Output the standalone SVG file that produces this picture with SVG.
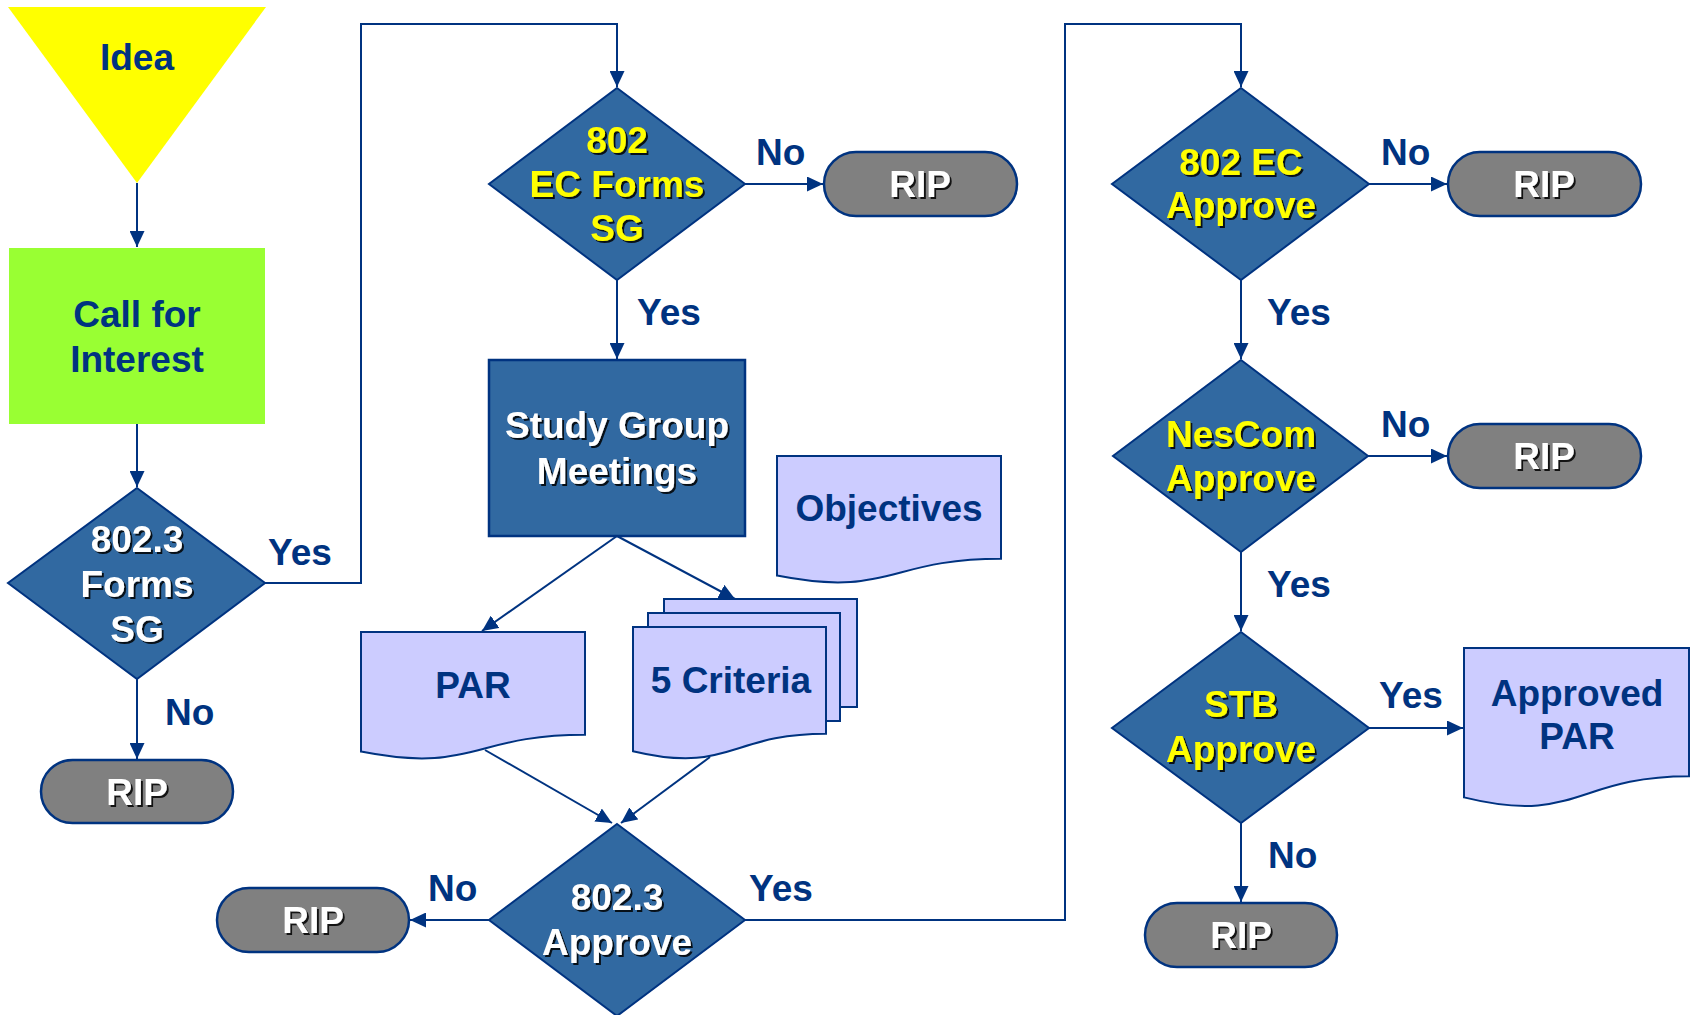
<svg xmlns="http://www.w3.org/2000/svg" width="1691" height="1015" viewBox="0 0 1691 1015">
<style>
text{font-family:"Liberation Sans",Arial,sans-serif;font-weight:bold;font-size:37px;text-anchor:middle}
.lbl{fill:#003380;text-anchor:start}
.nv{fill:#003380}
.wt{fill:#ffffff;filter:url(#sh)}
.yl{fill:#ffff00;filter:url(#sh)}
.dia{fill:#3169a1;stroke:#003380;stroke-width:2}
.pill{fill:#808080;stroke:#003380;stroke-width:2.5}
.doc{fill:#ccccff;stroke:#003380;stroke-width:2}
.con{fill:none;stroke:#003380;stroke-width:2;marker-end:url(#ah)}
</style>
<defs>
<marker id="ah" markerUnits="userSpaceOnUse" markerWidth="17" markerHeight="15" refX="16" refY="7.5" orient="auto">
<path d="M0,0 L16,7.5 L0,15 Z" fill="#003380"/>
</marker>
<filter id="sh" x="-10%" y="-20%" width="130%" height="150%">
<feDropShadow dx="2" dy="2" stdDeviation="0.6" flood-color="#000" flood-opacity="0.85"/>
</filter>
</defs>
<rect width="1691" height="1015" fill="#ffffff"/>

<g id="connectors">
<path class="con" d="M137,183 V247"/>
<path class="con" d="M137,424 V487"/>
<path class="con" d="M265,583 H361 V24 H617 V87"/>
<path class="con" d="M137,679 V759"/>
<path class="con" d="M745,184 H823"/>
<path class="con" d="M617,280 V359"/>
<path class="con" d="M617,536 L482,631"/>
<path class="con" d="M617,536 L735,599"/>
<path class="con" d="M485,750 L612,823"/>
<path class="con" d="M710,757 L621,823"/>
<path class="con" d="M489,920 H410"/>
<path class="con" d="M745,920 H1065 V24 H1241 V87"/>
<path class="con" d="M1369,184 H1447"/>
<path class="con" d="M1241,280 V359"/>
<path class="con" d="M1368,456 H1447"/>
<path class="con" d="M1241,552 V631"/>
<path class="con" d="M1369,728 H1463"/>
<path class="con" d="M1241,823 V902"/>
</g>

<g id="labels">
<text class="lbl" x="268" y="565">Yes</text>
<text class="lbl" x="165" y="725">No</text>
<text class="lbl" x="756" y="165">No</text>
<text class="lbl" x="637" y="325">Yes</text>
<text class="lbl" x="428" y="901">No</text>
<text class="lbl" x="749" y="901">Yes</text>
<text class="lbl" x="1381" y="165">No</text>
<text class="lbl" x="1267" y="325">Yes</text>
<text class="lbl" x="1381" y="437">No</text>
<text class="lbl" x="1267" y="597">Yes</text>
<text class="lbl" x="1379" y="708">Yes</text>
<text class="lbl" x="1268" y="868">No</text>
</g>

<g id="idea">
<polygon points="8,7 266,7 137,183" fill="#ffff00"/>
<text class="nv" x="137" y="70">Idea</text>
</g>

<g id="call-for-interest">
<rect x="9" y="248" width="256" height="176" fill="#99ff33"/>
<text class="nv" x="137" y="327">Call for</text>
<text class="nv" x="137" y="372">Interest</text>
</g>

<g id="d-8023-forms-sg">
<polygon class="dia" points="137,488 265,583 137,679 8,583"/>
<text class="wt" x="137" y="552">802.3</text>
<text class="wt" x="137" y="597">Forms</text>
<text class="wt" x="137" y="642">SG</text>
</g>

<g id="rip-1">
<rect class="pill" x="41" y="760" width="192" height="63" rx="31.5"/>
<text class="wt" x="137" y="805">RIP</text>
</g>

<g id="d-802-ec-forms-sg">
<polygon class="dia" points="617,88 745,184 617,280 489,184"/>
<text class="yl" x="617" y="153">802</text>
<text class="yl" x="617" y="197">EC Forms</text>
<text class="yl" x="617" y="241">SG</text>
</g>

<g id="rip-2">
<rect class="pill" x="824" y="152" width="193" height="64" rx="32"/>
<text class="wt" x="920" y="197">RIP</text>
</g>

<g id="study-group">
<rect x="489" y="360" width="256" height="176" fill="#3169a1" stroke="#003380" stroke-width="2.5"/>
<text class="wt" x="617" y="438">Study Group</text>
<text class="wt" x="617" y="484">Meetings</text>
</g>

<g id="objectives">
<path class="doc" d="M777,456 H1001 V558.7 C889,558.7 889,597.8 777,575.6 Z"/>
<text class="nv" x="889" y="521">Objectives</text>
</g>

<g id="par">
<path class="doc" d="M361,632 H585 V734.7 C473,734.7 473,773.8 361,751.6 Z"/>
<text class="nv" x="473" y="698">PAR</text>
</g>

<g id="five-criteria">
<rect class="doc" x="664" y="599" width="193" height="108"/>
<rect class="doc" x="648" y="613" width="192" height="108"/>
<path class="doc" d="M633,627 H826 V733.7 C729.5,733.7 729.5,774.3 633,751.2 Z"/>
<text class="nv" x="731" y="693">5 Criteria</text>
</g>

<g id="d-8023-approve">
<polygon class="dia" points="617,824 745,920 617,1016 489,920"/>
<text class="wt" x="617" y="910">802.3</text>
<text class="wt" x="617" y="955">Approve</text>
</g>

<g id="rip-3">
<rect class="pill" x="217" y="888" width="192" height="64" rx="32"/>
<text class="wt" x="313" y="933">RIP</text>
</g>

<g id="d-802-ec-approve">
<polygon class="dia" points="1241,88 1369,184 1241,280 1112,184"/>
<text class="yl" x="1241" y="175">802 EC</text>
<text class="yl" x="1241" y="218">Approve</text>
</g>

<g id="rip-4">
<rect class="pill" x="1448" y="152" width="193" height="64" rx="32"/>
<text class="wt" x="1544" y="197">RIP</text>
</g>

<g id="d-nescom-approve">
<polygon class="dia" points="1241,360 1368,456 1241,552 1113,456"/>
<text class="yl" x="1241" y="447">NesCom</text>
<text class="yl" x="1241" y="491">Approve</text>
</g>

<g id="rip-5">
<rect class="pill" x="1448" y="424" width="193" height="64" rx="32"/>
<text class="wt" x="1544" y="469">RIP</text>
</g>

<g id="d-stb-approve">
<polygon class="dia" points="1241,632 1369,728 1241,823 1112,728"/>
<text class="yl" x="1241" y="717">STB</text>
<text class="yl" x="1241" y="762">Approve</text>
</g>

<g id="approved-par">
<path class="doc" d="M1464,648 H1689 V776.3 C1576.5,776.3 1576.5,825.2 1464,797.4 Z"/>
<text class="nv" x="1577" y="706">Approved</text>
<text class="nv" x="1577" y="749">PAR</text>
</g>

<g id="rip-6">
<rect class="pill" x="1145" y="903" width="192" height="64" rx="32"/>
<text class="wt" x="1241" y="948">RIP</text>
</g>
</svg>
